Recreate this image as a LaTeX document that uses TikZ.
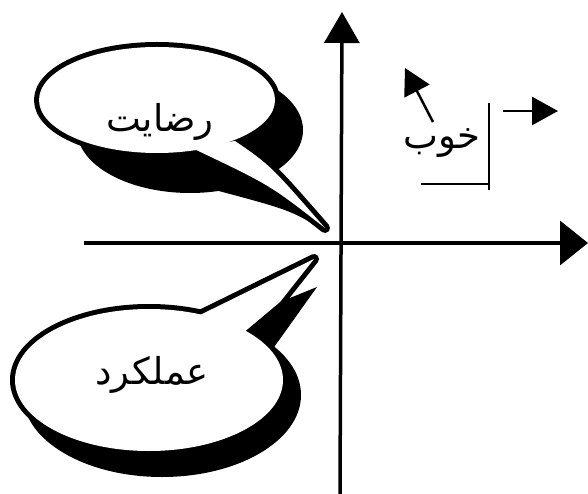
\documentclass[tikz,border=0pt]{standalone}
\usepackage{fontspec}
\newfontfamily\arabicfont[Script=Arabic]{DejaVu Sans}
\TeXXeTstate=1
\usetikzlibrary{arrows.meta}
\begin{document}
\begin{tikzpicture}[x=1pt,y=-1pt,
  axisline/.style={line width=3.5pt},
  bigtipv/.style={-{Triangle[length=31pt,width=35pt]}},
  bigtiph/.style={-{Triangle[length=28pt,width=44pt]}},
  smallarrow/.style={line width=2.5pt,-{Triangle[length=26pt,width=28pt]}},
  bracketline/.style={line width=2pt},
  shadowfill/.style={fill=black},
  outlinestroke/.style={draw=black,line width=10pt,line join=round,fill=black},
  innerfill/.style={fill=white},
  lbl/.style={font=\arabicfont\fontsize{37}{42}\selectfont, inner sep=0pt}]
\useasboundingbox (0,0) rectangle (588,494);
% ---- top bubble (رضایت)
\path[shadowfill] (190,130) ellipse [x radius=113, y radius=63];
\path[shadowfill] (215,190) .. controls (290,210) .. (325,231) .. controls (270,165) .. (235,141) -- cycle;
\path[outlinestroke] (157,100) ellipse [x radius=118, y radius=53];
\path[outlinestroke] (192,148) .. controls (270,185) .. (325,228) .. controls (270,165) .. (235,141) -- cycle;
\path[innerfill] (157,100) ellipse [x radius=118, y radius=53];
\path[innerfill] (192,148) .. controls (270,185) .. (325,228) .. controls (270,165) .. (235,141) -- cycle;
% ---- bottom bubble (عملکرد)
\path[shadowfill] (162,395) ellipse [x radius=139, y radius=82];
\path[shadowfill] (240,335) -- (280,302) -- (317,287) -- (272,350) -- cycle;
\path[outlinestroke] (149,380) ellipse [x radius=134, y radius=71];
\path[outlinestroke] (198,316) -- (314,259) -- (280,302) -- (243,333) -- cycle;
\path[innerfill] (149,380) ellipse [x radius=134, y radius=71];
\path[innerfill] (198,316) -- (314,259) -- (280,302) -- (243,333) -- cycle;
% ---- labels
\node[lbl] (rezayat) at (160,122) {\beginR رضایت\endR};
\node[lbl] (amalkard) at (152,375) {\beginR عملکرد\endR};
\node[lbl] (khub) at (442,143) {\beginR خوب\endR};
% ---- axes
\coordinate (vbot) at (340,494);
\coordinate (vtop) at (342,12);
\coordinate (hleft) at (84,243);
\coordinate (hright) at (588,243);
\draw[axisline,bigtipv] (vbot) -- (vtop);
\draw[axisline,bigtiph] (hleft) -- (hright);
% ---- small arrows and bracket
\coordinate (sa1) at (433,122);
\coordinate (sa2) at (405,68);
\draw[smallarrow] (sa1) -- (sa2);
\coordinate (ra1) at (503,111);
\coordinate (ra2) at (558,111);
\draw[smallarrow] (ra1) -- (ra2);
\coordinate (b1) at (489,103);
\coordinate (b2) at (489,190);
\coordinate (b3) at (421,184);
\coordinate (b4) at (489,184);
\draw[bracketline] (b1) -- (b2);
\draw[bracketline] (b3) -- (b4);
\end{tikzpicture}
\end{document}
